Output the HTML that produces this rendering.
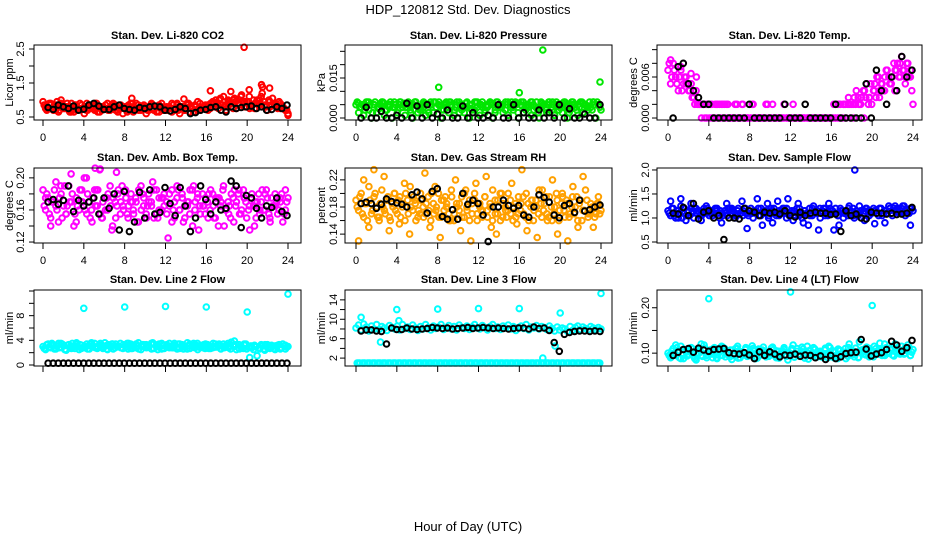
<!DOCTYPE html>
<html><head><meta charset="utf-8"><title>HDP_120812 Std. Dev. Diagnostics</title>
<style>
html,body{margin:0;padding:0;background:#fff;}
svg{display:block;font-family:"Liberation Sans",Arial,sans-serif;}
</style></head>
<body>
<svg id="chart" width="936" height="540" viewBox="0 0 936 540">
<rect x="0" y="0" width="936" height="540" fill="#fff"/>
<text x="468" y="14" text-anchor="middle" font-size="13">HDP_120812  Std. Dev. Diagnostics</text>
<text x="468" y="531" text-anchor="middle" font-size="13">Hour of Day (UTC)</text>
</svg>
<script>
// ---- data ----
const xTicks = [0,4,8,12,16,20,24];
const xTickLabels = ["0","4","8","12","16","20","24"];

const co2Main = [.95,.8,.75,.9,.7,.85,.65,1.0,.75,.8,.7,.9,.65,.8,.75,.85,.6,.9,.75,.8,.7,.85,.65,.8,.75,.9,.7,.8,.85,.65,.75,.6,.8,.7,.9,.65,.75,.85,.7,.8,.6,.75,.85,.7,.8,.65,.9,.75,.7,.8,.65,.75,.9,.6,.8,.7,.85,.65,.75,.8,.95,.7,.75,.85,.7,.9,.8,1.0,.75,.85,1.1,.7,.95,.8,1.0,.75,.9,1.15,.8,.95,1.1,.85,.75,1.0,.9,1.2,.8,.7,.95,1.05,.85,.75,.9,.8,.7,.6];
const co2Fill = [.85,.7,.9,.75,.8,.95,.7,.85,.75,.9,.65,.8,.85,.7,.9,.75,.8,.7,.85,.75,.9,.65,.8,.75,.85,.7,.8,.9,.7,.75,.85,.8,.75,.85,.7,.8,.9,.7,.75,.85,.8,.7,.9,.75,.65,.85,.8,.7,.8,.75,.9,.7,.85,.8,.75,.7,.9,.8,.75,.85,.7,.9,.8,.75,.85,.75,.95,.8,.9,1.05,.85,.8,1.0,.9,.75,.95,.85,1.1,.9,.8,.95,.8,1.0,.9,.85,1.1,.95,.8,1.0,.85,.9,.8,.95,.85,.75,.7];
const co2Extra = [.75,.85,.7,.9,.8,.65,.85,.75,.7,.8,.9,.7,.75,.85,.7,.8,.65,.9,.75,.8,.7,.85,.8,.7,.75,.85,.7,.8,.9,.65,.75,.8,.85,.9,1.0,.8,.9,1.05,.85,.95,.75,.9,1.0,.85,.8,.9,.75,.7];
const co2Black = [.78,.72,.85,.8,.75,.82,.7,.73,.85,.9,.82,.72,.72,.8,.85,.75,.72,.7,.78,.75,.8,.82,.8,.7,.68,.72,.8,.75,.6,.63,.7,.72,.78,.8,.7,.65,.8,.75,.78,.8,.82,.75,.8,.7,.72,.8,.75,.85];
const co2OutHours = [19.7,21.4,21.5,16.4,8.7,13.8,20.2,22.2,24,18.4];
const co2OutVals = [2.55,1.45,1.38,1.27,1.05,1.03,1.3,1.35,0.55,1.25];

const presMain = [5,2,4,1,6,3,0,5,2,4,6,1,3,5,0,4,2,6,4,1,5,3,0,6,2,4,5,1,3,6,2,4,5,0,3,6,2,4,1,5,6,3,2,4,0,5,3,6,1,4,2,5,6,0,3,4,5,2,6,1,4,3,5,0,6,2,4,5,1,3,6,0,4,5,2,6,3,1,5,4,2,6,0,3,5,4,1,6,2,5,3,4,6,0,5,3];
const presFill = [6,4,5,3,6,5,2,6,4,5,6,3,5,6,4,5,3,6,5,4,6,2,5,6,4,3,6,5,2,5,6,4,6,3,5,4,6,5,3,6,2,5,4,6,5,3,6,4,5,6,3,4,6,5,2,6,4,5,3,6,5,4,6,2,5,6,3,4,6,5,4,2,6,5,3,6,4,5,6,3,5,6,4,2,6,5,3,4,6,5,4,6,3,5,6,4];
const presExtra = [5.5,4.5,6,5,3.5,5.5,4,6,5,5.5,4.5,6,3,5.5,5,6,4.5,5.5,6,4,5,5.5,3.5,6,5,4.5,5.5,6,4,5,6,5.5,4.5,5,6,3.5,5.5,5,6,4.5,5.5,4,6,5,5.5,4.5,6,5];
const presBlack = [0,4,0,0,2.5,0,0,1,0,5.5,0,4.5,0,5,0,1.5,0,3,0,0,4.5,0,2,0,0,1,0,5,0,0,5,0,2,0,0,3,0,2,0,5,0,3.5,0,0,1.5,0,0,5];
const presOutHours = [8.1,18.3,16,23.9];
const presOutVals = [11.5,25.5,9.5,13.5];

const tempMain = [7,5,8,6,4,7,5,6,4,5,3,6,2,0,2,0,0,2,0,0,2,0,2,0,0,0,2,0,0,2,0,0,0,2,0,0,0,0,2,0,0,0,0,0,0,2,0,0,0,0,0,0,0,0,0,0,0,0,0,0,0,0,0,0,0,0,2,0,2,0,3,2,0,4,2,3,0,5,3,2,4,6,3,5,4,7,5,6,4,8,6,7,5,8,6,2];
const tempFill = [8,6,7,5,6,4,6,5,4,3,2,2,2,2,0,2,2,0,2,2,0,2,0,2,0,0,0,0,0,0,0,0,0,0,0,0,0,0,0,0,0,0,0,0,0,0,0,0,0,0,0,0,0,0,0,0,0,0,0,0,0,0,0,0,0,0,0,2,0,2,2,0,2,2,3,2,4,3,2,5,4,3,6,5,4,7,6,5,8,7,6,9,7,8,6,4];
const tempExtra = [8.5,6,7.5,5,6.5,4,2,2,0,2,2,2,0,2,2,0,2,0,0,2,2,0,0,0,2,0,0,0,0,0,0,0,2,0,2,2,3,2,4,3,5,4,6,5,7,8,6,7];
const tempBlack = [0,7.5,8,5,4,3,2,2,0,0,0,0,0,0,0,2,0,0,0,0,0,0,2,0,0,0,2,0,0,0,0,0,2,0,0,0,0,0,5,0,7,4,2,6,4,9,6,7];
const tempOutHours = [];
const tempOutVals = [];

const ambMain = [185,160,175,150,170,195,145,180,165,155,190,170,140,175,160,185,200,155,170,145,185,165,210,150,175,160,190,140,170,180,155,165,185,150,170,160,175,145,190,165,155,180,170,150,185,160,175,165,155,180,145,170,190,160,175,150,165,185,140,170,180,155,165,175,150,185,165,175,140,170,190,160,155,180,145,170,185,160,175,150,165,180,140,170,155,185,160,175,150,165,180,155,170,145,160,175];
const ambFill = [165,180,155,170,185,160,175,150,190,165,170,180,155,165,185,170,160,180,150,175,165,185,155,170,160,180,165,175,150,185,170,160,175,165,180,155,170,185,160,175,150,170,165,185,155,175,160,180,170,165,185,150,175,160,180,165,170,155,185,160,175,165,180,155,170,160,180,150,175,165,185,160,170,150,175,165,180,155,185,170,160,175,165,150,180,170,160,185,155,175,165,170,160,180,155,170];
const ambExtra = [175,140,165,190,155,205,145,170,200,160,185,150,175,135,165,190,155,170,145,180,165,195,150,175,125,160,185,145,170,190,135,165,180,150,175,140,165,185,155,175,135,170,160,180,145,165,175,185];
const ambBlack = [170,173,167,172,190,158,172,165,170,175,155,175,162,180,135,183,133,145,182,150,185,155,157,188,168,153,188,165,133,150,190,173,155,170,160,162,196,190,138,178,175,162,150,165,163,175,158,153];
const ambOutHours = [5.1,5.6,7.2];
const ambOutVals = [212,211,207];

const rhMain = [190,175,200,165,185,210,170,195,180,160,205,175,190,165,185,200,170,195,180,160,190,210,175,185,165,200,180,170,195,160,185,175,200,165,190,180,170,205,160,185,175,195,165,180,190,170,200,160,185,175,195,165,180,205,170,190,160,185,175,200,170,180,165,195,185,170,200,160,190,175,180,205,165,185,170,195,160,180,190,175,200,165,185,170,195,180,160,190,175,205,165,185,180,170,195,175];
const rhFill = [180,195,170,185,160,190,175,200,165,185,180,170,195,160,180,175,190,165,185,200,170,180,195,160,175,190,165,185,175,200,170,180,165,190,175,185,160,195,170,180,185,165,200,175,160,185,190,170,180,165,195,175,185,160,190,170,200,165,180,175,190,160,185,170,175,195,165,185,180,160,190,170,185,175,195,165,180,170,200,160,185,175,190,165,180,170,195,185,160,175,190,170,180,165,185,170];
const rhExtra = [130,220,150,235,165,225,145,200,155,215,140,190,170,230,150,210,135,195,160,220,145,205,130,215,175,225,150,140,200,165,215,155,235,145,190,135,205,160,220,140,195,130,210,150,225,170,150,185];
const rhBlack = [185,187,185,178,184,192,188,186,184,180,198,202,192,171,203,207,166,162,176,162,200,184,190,185,168,129,180,180,190,182,178,182,168,165,180,198,194,187,168,164,182,185,172,190,174,176,180,183];
const rhOutHours = [];
const rhOutVals = [];

const flowMain = [1.15,1.05,1.2,1.1,1.0,1.25,1.1,1.05,1.15,1.2,1.0,1.1,1.15,1.05,1.2,1.1,1.05,1.15,1.1,1.2,1.0,1.1,1.15,1.05,1.2,1.1,1.0,1.15,1.1,1.05,1.2,1.1,1.1,1.0,1.15,1.2,1.05,1.1,1.15,1.0,1.2,1.1,1.05,1.15,1.1,1.2,1.0,1.1,1.15,1.05,1.1,1.2,1.0,1.15,1.1,1.05,1.2,1.1,1.15,1.0,1.1,1.2,1.05,1.15,1.1,1.2,1.05,1.15,1.0,1.1,1.2,1.1,1.05,1.15,1.1,1.0,1.15,1.2,1.05,1.1,1.15,1.1,1.2,1.05,1.15,1.1,1.2,1.05,1.15,1.2,1.1,1.25,1.15,1.1,1.2,1.15];
const flowFill = [1.1,1.2,1.05,1.15,1.1,1.0,1.2,1.15,1.05,1.1,1.2,1.15,1.05,1.1,1.15,1.2,1.1,1.05,1.2,1.1,1.15,1.05,1.1,1.2,1.1,1.15,1.05,1.2,1.1,1.15,1.1,1.05,1.2,1.15,1.1,1.05,1.2,1.15,1.1,1.05,1.15,1.2,1.1,1.05,1.15,1.1,1.2,1.05,1.1,1.15,1.2,1.05,1.1,1.15,1.1,1.2,1.05,1.15,1.1,1.2,1.15,1.05,1.1,1.2,1.15,1.1,1.05,1.2,1.15,1.1,1.05,1.15,1.2,1.1,1.05,1.15,1.1,1.2,1.15,1.1,1.2,1.15,1.05,1.2,1.1,1.15,1.25,1.1,1.2,1.15,1.1,1.2,1.25,1.15,1.1,1.2];
const flowExtra = [1.35,1.0,1.4,0.95,1.3,1.2,0.95,1.25,1.1,1.15,0.9,1.3,1.2,1.05,1.35,0.78,1.1,1.4,0.85,1.3,0.9,1.35,1.2,1.4,0.95,1.3,0.9,0.85,1.25,0.75,1.2,1.3,0.75,0.85,1.1,1.25,1.0,1.25,0.95,1.15,0.88,1.2,0.9,1.2,1.25,1.15,1.05,0.85];
const flowBlack = [1.1,1.08,1.22,1.05,1.3,0.98,1.12,1.15,1.0,1.05,0.55,1.0,1.0,0.98,1.2,1.15,1.12,1.05,1.12,1.1,1.12,1.08,1.15,1.05,1.02,1.12,1.05,1.1,1.12,1.1,1.1,1.07,1.08,0.72,1.15,1.05,1.08,1.0,0.98,1.12,1.1,1.1,1.08,1.1,1.07,1.08,1.1,1.22];
const flowOutHours = [18.3];
const flowOutVals = [2.0];

const line2Main = [3.0,2.5,3.4,2.8,3.2,2.6,3.5,2.9,3.1,2.4,3.3,2.7,3.0,3.6,2.5,3.2,2.8,3.4,2.6,3.0,3.5,2.7,3.2,2.9,3.6,2.5,3.1,3.4,2.8,3.0,3.5,2.7,3.2,2.6,3.4,3.0,2.8,3.6,2.5,3.1,3.3,2.9,3.5,2.7,3.0,3.4,2.6,3.2,3.0,3.5,2.8,3.2,2.6,3.4,2.9,3.1,3.6,2.7,3.0,3.3,2.5,3.2,2.8,3.4,3.1,2.7,3.5,2.9,3.0,2.6,3.4,3.2,2.8,3.7,3.0,2.5,3.3,2.9,3.4,2.6,3.0,2.8,3.2,1.5,2.6,3.1,2.4,3.3,2.7,3.0,2.5,3.2,2.8,3.4,2.6,3.0];
const line2Fill = [2.7,3.3,2.9,3.5,2.6,3.1,2.8,3.4,2.5,3.2,2.9,3.5,2.7,3.1,3.3,2.8,3.0,2.6,3.4,3.2,2.8,3.0,3.5,2.7,3.1,3.3,2.9,2.6,3.4,3.1,2.8,3.3,2.9,3.5,2.7,3.2,3.4,2.6,3.0,3.3,2.8,3.1,2.6,3.4,3.2,2.9,3.5,2.7,3.3,2.8,3.1,3.5,2.9,2.7,3.3,3.0,2.6,3.4,3.1,2.8,3.5,2.9,3.1,2.7,3.3,3.0,2.8,3.4,3.2,2.7,3.0,2.9,3.5,2.6,3.2,3.3,2.8,3.0,2.7,3.4,2.9,3.1,2.5,3.0,2.8,3.3,2.6,3.0,2.9,3.2,2.7,3.0,3.3,2.8,3.1,2.9];
const line2Extra = [2.6,3.3,2.8,3.5,2.5,3.1,3.4,2.7,3.0,3.6,2.9,3.2,2.6,3.4,3.0,2.8,3.5,2.7,3.1,3.3,2.9,3.6,2.5,3.2,3.0,2.8,3.4,2.6,3.1,3.5,2.9,3.3,2.7,3.0,3.4,2.8,3.1,3.9,2.6,3.2,1.2,3.0,2.7,3.3,2.9,3.1,2.6,3.2];
const line2Black = [0.3,0.3,0.3,0.3,0.3,0.3,0.3,0.3,0.3,0.3,0.3,0.3,0.3,0.3,0.3,0.3,0.3,0.3,0.3,0.3,0.3,0.3,0.3,0.3,0.3,0.3,0.3,0.3,0.3,0.3,0.3,0.3,0.3,0.3,0.3,0.3,0.3,0.3,0.3,0.3,0.3,0.3,0.3,0.3,0.3,0.3,0.3,0.3];
const line2OutHours = [4,8,12,16,20,24];
const line2OutVals = [9.2,9.4,9.5,9.4,8.6,11.5];

const line3Main = [8.2,8.8,7.8,9.0,8.4,7.6,8.6,8.0,8.9,7.9,8.5,8.2,7.7,8.7,8.3,8.0,8.6,7.8,8.9,8.1,8.4,7.9,8.8,8.2,7.7,8.5,8.0,8.9,8.3,7.8,8.6,8.1,8.4,8.9,7.9,8.2,8.7,8.0,8.5,7.8,8.8,8.3,8.1,8.6,7.9,8.4,8.9,8.2,8.0,8.7,8.3,7.8,8.5,8.9,8.1,8.4,7.9,8.6,8.2,8.8,8.0,8.5,7.7,8.3,8.6,8.1,8.9,7.8,8.4,8.2,8.7,8.0,8.5,8.3,7.9,8.6,8.1,7.6,8.4,7.8,8.2,8.0,7.5,8.5,7.7,8.3,8.6,7.9,8.4,8.1,7.8,8.5,8.2,7.9,8.3,8.0];
const line3Fill = [1,1,1,1,1,1,1,1,1,1,1,1,1,1,1,1,1,1,1,1,1,1,1,1,1,1,1,1,1,1,1,1,1,1,1,1,1,1,1,1,1,1,1,1,1,1,1,1,1,1,1,1,1,1,1,1,1,1,1,1,1,1,1,1,1,1,1,1,1,1,1,1,1,1,1,1,1,1,1,1,1,1,1,1,1,1,1,1,1,1,1,1,1,1,1,1];
const line3Extra = [1,1,1,1,1,1,1,1,1,1,1,1,1,1,1,1,1,1,1,1,1,1,1,1,1,1,1,1,1,1,1,1,1,1,1,1,1,1,1,1,1,1,1,1,1,1,1,1];
const line3Black = [7.6,7.8,7.8,7.6,7.5,4.9,8.2,7.9,7.9,8.2,8.0,7.9,8.0,8.1,8.3,8.2,8.1,8.2,8.0,8.1,8.2,8.3,8.1,8.2,8.3,8.2,8.1,8.2,8.1,8.0,8.1,8.2,8.2,8.0,8.4,8.1,8.2,7.7,5.2,3.4,6.9,7.3,7.5,7.6,7.6,7.5,7.6,7.5];
const line3OutHours = [0.5,4,8,12,16,20,24,2.4,18.3,19.5,4.2];
const line3OutVals = [10.4,12,12.1,12.2,12.2,11.3,15.3,5.3,2,4.5,9.7];

const line4Main = [100,90,110,95,105,115,88,102,97,112,92,108,100,95,118,90,105,98,112,88,103,95,110,100,92,107,97,115,90,102,108,94,100,110,88,105,96,113,92,102,99,108,90,104,97,112,93,101,106,91,110,98,103,89,115,95,101,108,92,104,97,111,90,100,105,93,109,97,102,88,112,96,104,100,91,107,98,113,92,103,115,100,108,95,120,102,110,96,104,112,98,106,100,118,95,108];
const line4Fill = [95,105,100,112,90,98,108,94,103,110,88,100,106,93,111,97,102,90,108,96,104,113,92,100,107,95,110,89,103,98,112,94,101,106,91,109,97,104,100,93,111,96,105,89,102,108,95,100,110,92,104,97,113,90,101,106,94,109,98,103,91,107,99,112,95,102,88,106,100,110,93,104,97,111,90,102,108,96,100,105,92,110,98,104,96,112,100,107,94,110,103,115,98,106,112,102];
const line4Extra = [92,118,88,105,112,85,120,95,108,90,115,98,86,110,102,93,116,89,107,97,113,91,104,85,118,96,109,87,112,100,94,115,90,106,98,120,92,125,103,110,97,122,95,108,120,100,112,95];
const line4Black = [95,102,108,110,102,111,107,104,108,109,110,101,99,98,101,96,88,103,95,103,98,92,96,95,98,93,96,95,90,94,86,95,88,92,99,101,102,130,109,94,98,101,108,126,118,104,112,128];
const line4OutHours = [4,12,20];
const line4OutVals = [220,235,205];

// ---- layout (positions, not data) ----
const cols = [{l:34,r:301,x0:43,x24:288,ylabX:9,tickX:20},{l:345,r:612,x0:356,x24:601,ylabX:321,tickX:333},{l:657,r:922,x0:668,x24:913,ylabX:633,tickX:645}];
const rows = [{t:45,b:120,title:35,xlabels:true},{t:168,b:243,title:157,xlabels:true},{t:290,b:366,title:279,xlabels:false}];

const panels = [
 {name:"co2",title:"Stan. Dev. Li-820 CO2",ylab:"Licor ppm",color:"#ff0000",ymin:0.412,ymax:2.618,ticks:[0.5,1,1.5,2,2.5],labs:[[0.5,"0.5"],[1.5,"1.5"],[2.5,"2.5"]],m:co2Main,f:co2Fill,e:co2Extra,k:co2Black,oh:co2OutHours,ov:co2OutVals},
 {name:"pressure",title:"Stan. Dev. Li-820 Pressure",ylab:"kPa",color:"#00e600",ymin:-0.75,ymax:27.37,ticks:[0,5,10,15,20,25],labs:[[0,"0.000"],[15,"0.015"]],m:presMain,f:presFill,e:presExtra,k:presBlack,oh:presOutHours,ov:presOutVals},
 {name:"temp",title:"Stan. Dev. Li-820 Temp.",ylab:"degrees C",color:"#ff00ff",ymin:-0.29,ymax:10.68,ticks:[0,2,4,6,8,10],labs:[[0,"0.000"],[6,"0.006"]],m:tempMain,f:tempFill,e:tempExtra,k:tempBlack,oh:tempOutHours,ov:tempOutVals},
 {name:"amb-box-temp",title:"Stan. Dev. Amb. Box Temp.",ylab:"degrees C",color:"#ff00ff",ymin:118.8,ymax:212.3,ticks:[120,140,160,180,200],labs:[[120,"0.12"],[160,"0.16"],[200,"0.20"]],m:ambMain,f:ambFill,e:ambExtra,k:ambBlack,oh:ambOutHours,ov:ambOutVals},
 {name:"gas-stream-rh",title:"Stan. Dev. Gas Stream RH",ylab:"percent",color:"#ffa000",ymin:126.9,ymax:237.5,ticks:[140,160,180,200,220],labs:[[140,"0.14"],[180,"0.18"],[220,"0.22"]],m:rhMain,f:rhFill,e:rhExtra,k:rhBlack,oh:rhOutHours,ov:rhOutVals},
 {name:"sample-flow",title:"Stan. Dev. Sample Flow",ylab:"ml/min",color:"#0000ff",ymin:0.479,ymax:2.041,ticks:[0.5,1,1.5,2],labs:[[0.5,"0.5"],[1,"1.0"],[1.5,"1.5"],[2,"2.0"]],m:flowMain,f:flowFill,e:flowExtra,k:flowBlack,oh:flowOutHours,ov:flowOutVals},
 {name:"line2-flow",title:"Stan. Dev. Line 2 Flow",ylab:"ml/min",color:"#00ffff",ymin:-0.16,ymax:12.16,ticks:[0,2,4,6,8,10,12],labs:[[0,"0"],[4,"4"],[8,"8"]],m:line2Main,f:line2Fill,e:line2Extra,k:line2Black,oh:line2OutHours,ov:line2OutVals},
 {name:"line3-flow",title:"Stan. Dev. Line 3 Flow",ylab:"ml/min",color:"#00ffff",ymin:0.373,ymax:16.03,ticks:[2,4,6,8,10,12,14],labs:[[2,"2"],[6,"6"],[10,"10"],[14,"14"]],m:line3Main,f:line3Fill,e:line3Extra,k:line3Black,oh:line3OutHours,ov:line3OutVals},
 {name:"line4-flow",title:"Stan. Dev. Line 4 (LT) Flow",ylab:"ml/min",color:"#00ffff",ymin:71.7,ymax:239.1,ticks:[100,150,200],labs:[[100,"0.10"],[200,"0.20"]],m:line4Main,f:line4Fill,e:line4Extra,k:line4Black,oh:line4OutHours,ov:line4OutVals}
];

const NS = "http://www.w3.org/2000/svg";
const svg = document.getElementById("chart");
function mk(tag, attrs, parent){
  const el = document.createElementNS(NS, tag);
  for (const a in attrs) el.setAttribute(a, attrs[a]);
  parent.appendChild(el);
  return el;
}

panels.forEach((p, idx) => {
  const c = cols[idx % 3], r = rows[Math.floor(idx / 3)];
  const g = mk("g", {}, svg);
  
  
  const xs = h => c.x0 + (c.x24 - c.x0) * h / 24;
  const ys = v => r.b - (r.b - r.t) * (v - p.ymin) / (p.ymax - p.ymin);

  const pts = mk("g", {fill:"none","stroke-width":"2"}, g);
  
  
  function dot(h, v, col, nm){
    const y = ys(v);
    if (y < r.t - 1 || y > r.b + 1) return;
    const ci = mk("circle", {cx:xs(h).toFixed(1), cy:y.toFixed(1), r:"2.8", stroke:col}, pts);
    
    
  }
  p.m.forEach((v, i) => dot(24 * i / (p.m.length - 1), v, p.color, p.name + '-point'));
  p.f.forEach((v, i) => dot(0.12 + 23.76 * i / (p.f.length - 1), v, p.color, p.name + '-point'));
  p.e.forEach((v, i) => dot(0.25 + 23.5 * i / (p.e.length - 1), v, p.color, p.name + '-point'));
  p.oh.forEach((h, i) => dot(h, p.ov[i], p.color, p.name + '-outlier'));
  p.k.forEach((v, i) => dot(0.5 + 23.4 * i / (p.k.length - 1), v, "#000", p.name + '-hourly-point'));

  const box = mk("rect", {x:c.l, y:r.t, width:c.r - c.l, height:r.b - r.t, fill:"none", stroke:"#000", "stroke-width":"1"}, g);
  
  

  const t = mk("text", {x:(c.l + c.r) / 2, y:r.title + 4, "text-anchor":"middle", "font-size":"11", "font-weight":"bold"}, g);
  t.textContent = p.title;
  
  

  p.ticks.forEach(v => {
    const y = ys(v);
    const tk = mk("line", {x1:c.l - 5, x2:c.l, y1:y, y2:y, stroke:"#000"}, g);
    
    
  });
  const yline = mk("line", {x1:c.l, x2:c.l, y1:ys(p.ticks[0]), y2:ys(p.ticks[p.ticks.length - 1]), stroke:"#000"}, g);
  
  
  p.labs.forEach(([v, s]) => {
    const y = ys(v);
    const tl = mk("text", {x:0, y:0, transform:`translate(${c.tickX + 4},${y}) rotate(-90)`, "text-anchor":"middle", "font-size":"11"}, g);
    tl.textContent = s;
    
    
  });
  const yl = mk("text", {x:0, y:0, transform:`translate(${c.ylabX + 4},${(r.t + r.b) / 2}) rotate(-90)`, "text-anchor":"middle", "font-size":"11"}, g);
  yl.textContent = p.ylab;
  
  

  xTicks.forEach((h, i) => {
    const x = xs(h);
    const tk = mk("line", {x1:x, x2:x, y1:r.b, y2:r.b + 6, stroke:"#000"}, g);
    
    
    if (r.xlabels) {
      const tl = mk("text", {x:x, y:r.b + 21, "text-anchor":"middle", "font-size":"11"}, g);
      tl.textContent = xTickLabels[i];
      
      
    }
  });
});
</script>
</body></html>
